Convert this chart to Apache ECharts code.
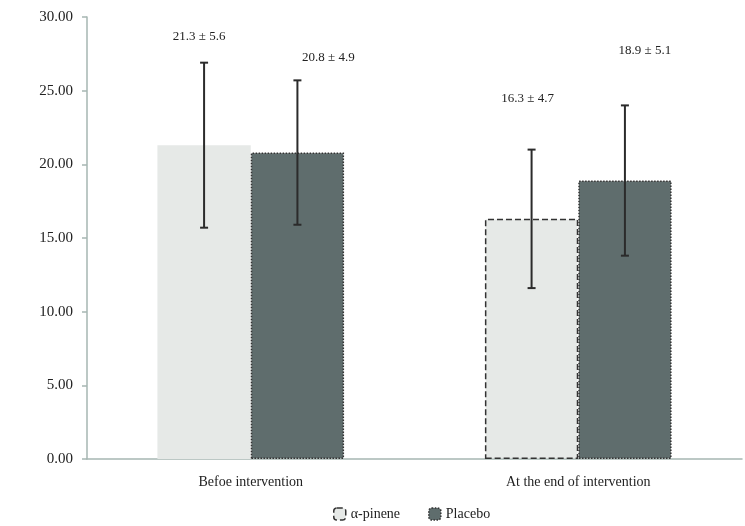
<!DOCTYPE html>
<html>
<head>
<meta charset="utf-8">
<script src="https://cdn.jsdelivr.net/npm/echarts@6/dist/echarts.min.js"></script>
<style>
  html, body { margin: 0; padding: 0; background: #fff; }
  #chart { width: 745px; height: 526px; }
</style>
</head>
<body>
<div id="chart"></div>
<script>
const categories = ['Befoe intervention', 'At the end of intervention'];
const seriesNames = ['α-pinene', 'Placebo'];
const pineneMean = [21.3, 16.3];
const pineneSd = [5.6, 4.7];
const placeboMean = [20.8, 18.9];
const placeboSd = [4.9, 5.1];

// label nudges (px) to sit where the original boxes were
const pineneLabelOffset = [[-5, -97], [-4, -109]];
const placeboLabelOffset = [[31, -83], [20, -118]];

const FONT = '"Liberation Serif", serif';
const axisColor = '#a6b6b2';
const CAT_GAP = 0.43;

const chart = echarts.init(document.getElementById('chart'));

// error bar drawn as custom series, shifted to the bar centre
function errorSeries(means, sds, side) {
  return {
    type: 'custom',
    z: 5,
    silent: true,
    data: means.map((m, i) => [i, m - sds[i], m + sds[i]]),
    renderItem: (params, api) => {
      const i = api.value(0);
      const lo = api.coord([i, api.value(1)]);
      const hi = api.coord([i, api.value(2)]);
      const bw = api.size([1, 0])[0] * (1 - CAT_GAP) / 2;
      const x = lo[0] + side * bw / 2;
      const cap = 4;
      const style = { stroke: '#2b2b2b', lineWidth: 2 };
      return {
        type: 'group',
        children: [
          { type: 'line', shape: { x1: x, y1: lo[1], x2: x, y2: hi[1] }, style },
          { type: 'line', shape: { x1: x - cap, y1: hi[1], x2: x + cap, y2: hi[1] }, style },
          { type: 'line', shape: { x1: x - cap, y1: lo[1], x2: x + cap, y2: lo[1] }, style },
        ],
      };
    },
  };
}

const labelStyle = { show: true, position: 'top', fontFamily: FONT, fontSize: 13, color: '#222' };

chart.setOption({
  animation: false,
  grid: { left: 87, right: 3, top: 17, bottom: 67 },
  legend: {
    left: 328, top: 502,
    itemWidth: 12, itemHeight: 12, itemGap: 28,
    textStyle: { fontFamily: FONT, fontSize: 14, color: '#222' },
    data: [
      { name: seriesNames[0], itemStyle: { color: '#e6e9e7', borderColor: '#333', borderWidth: 1.5, borderType: 'dashed' } },
      { name: seriesNames[1], itemStyle: { color: '#5f6d6d', borderColor: '#333', borderWidth: 1.5, borderType: 'dotted' } },
    ],
  },
  xAxis: {
    type: 'category',
    data: categories,
    axisLine: { lineStyle: { color: axisColor, width: 1.5 } },
    axisTick: { length: 6, lineStyle: { color: axisColor, width: 1.5 } },
    axisLabel: { fontFamily: FONT, fontSize: 14, color: '#222', margin: 16 },
  },
  yAxis: {
    type: 'value',
    min: 0, max: 30, interval: 5,
    axisLine: { show: true, lineStyle: { color: axisColor, width: 1.5 } },
    axisTick: { show: true, length: 5, lineStyle: { color: axisColor, width: 1.5 } },
    splitLine: { show: false },
    axisLabel: { fontFamily: FONT, fontSize: 15, color: '#222', margin: 14, formatter: v => v.toFixed(2) },
  },
  series: [
    {
      name: seriesNames[0], type: 'bar', barGap: 0, barCategoryGap: (CAT_GAP * 100) + '%',
      itemStyle: { color: '#e6e9e7' },
      data: pineneMean.map((v, i) => ({
        value: v,
        itemStyle: i === 0 ? { borderWidth: 0 } : { borderColor: '#333', borderWidth: 1.5, borderType: 'dashed' },
        label: { ...labelStyle, offset: pineneLabelOffset[i], formatter: () => `${v} ± ${pineneSd[i]}` },
      })),
    },
    {
      name: seriesNames[1], type: 'bar', barGap: 0, barCategoryGap: (CAT_GAP * 100) + '%',
      itemStyle: { color: '#5f6d6d', borderColor: '#333', borderWidth: 1.5, borderType: 'dotted' },
      data: placeboMean.map((v, i) => ({
        value: v,
        label: { ...labelStyle, offset: placeboLabelOffset[i], formatter: () => `${v} ± ${placeboSd[i]}` },
      })),
    },
    errorSeries(pineneMean, pineneSd, -1),
    errorSeries(placeboMean, placeboSd, 1),
  ],
});
</script>
</body>
</html>
